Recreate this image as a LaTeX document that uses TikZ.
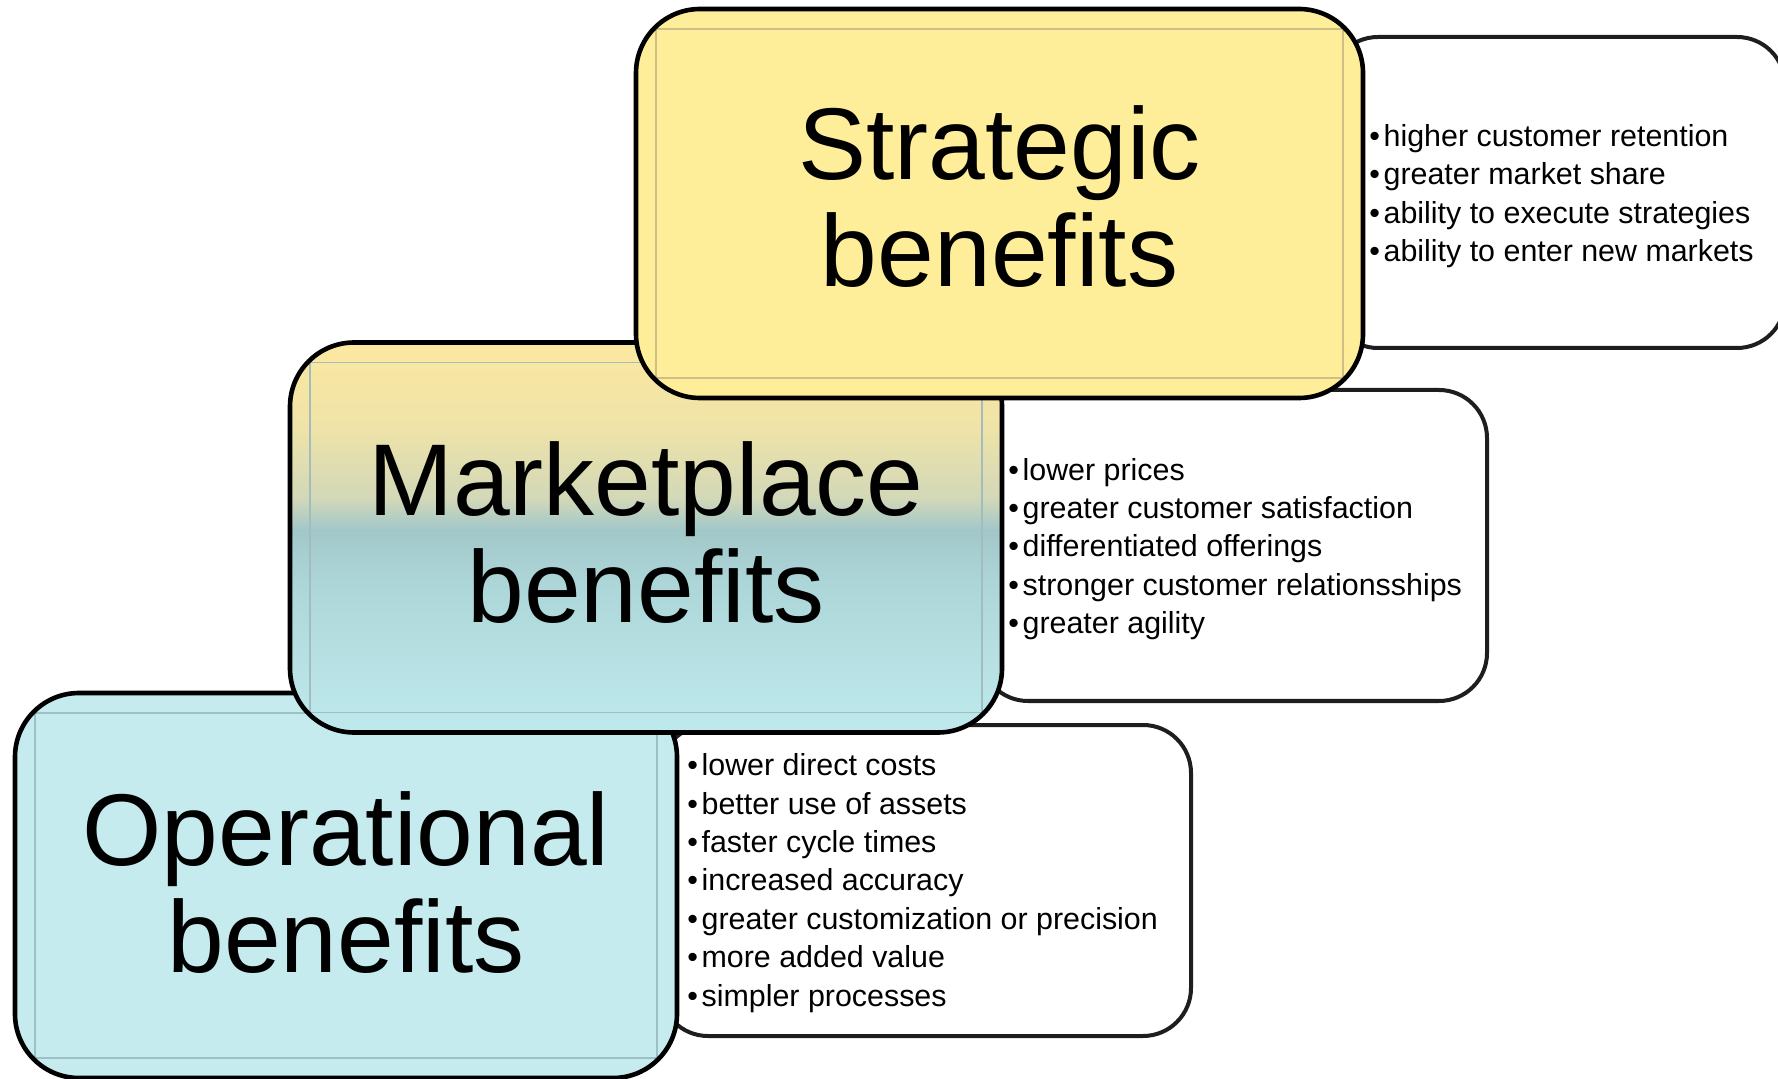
\documentclass[tikz,border=0pt]{standalone}
\usepackage{fontspec}
\setmainfont{Liberation Sans}

\definecolor{stryellow}{HTML}{FFEE99}
\definecolor{opscyan}{HTML}{C5EBEE}
\definecolor{strline}{HTML}{CDBF86}
\definecolor{opsline}{HTML}{9CC0C4}
\definecolor{mktline}{HTML}{A3BDBD}
\definecolor{mkttop}{HTML}{FCE8A0}
\definecolor{mktpale}{HTML}{EEE3A8}
\definecolor{mktkhaki}{HTML}{D2D8B8}
\definecolor{mktteal}{HTML}{A2C7C9}
\definecolor{mktlow}{HTML}{ADD6D8}
\definecolor{mktbot}{HTML}{BFEAED}
\definecolor{listline}{HTML}{1E1E1E}

\pgfdeclareverticalshading{mktshade}{100bp}{color(0bp)=(mktbot); color(25bp)=(mktbot); color(44bp)=(mktlow); color(51bp)=(mktteal); color(55bp)=(mktkhaki); color(64bp)=(mktpale); color(75bp)=(mkttop); color(100bp)=(mkttop)}

\newcommand{\itemdot}{•\hspace{1.8pt}}

\begin{document}
\begin{tikzpicture}[x=0.5pt, y=-0.5pt,
    benefit/.style={draw=black, line width=2.3pt, rounded corners=32pt, inner sep=0pt,
      align=center, font=\fontsize{51}{53.5}\selectfont,
      path picture={\draw[#1, line width=0.7pt, sharp corners]
        ([xshift=10pt,yshift=-10pt]path picture bounding box.north west) rectangle
        ([xshift=-10pt,yshift=10pt]path picture bounding box.south east);}},
    listbox/.style={draw=listline, line width=2pt, rounded corners=24pt, fill=white,
      inner sep=0pt, minimum height=155.5pt},
    items/.style={anchor=west, inner sep=0pt, align=left, font=\fontsize{15.2}{19.2}\selectfont}]
  \useasboundingbox (0,0) rectangle (1778,1079);

  % Operational
  \node[listbox, minimum width=265.5pt] (opsbox) at (925.5,880.5) {};
  \node[items] (opslist) at (687,883) {\itemdot lower direct costs\\\itemdot better use of assets\\\itemdot faster cycle times\\\itemdot increased accuracy\\\itemdot greater customization or precision\\\itemdot more added value\\\itemdot simpler processes};
  \node[benefit=opsline, fill=opscyan, minimum width=331pt, minimum height=192.5pt, text depth=3pt] (ops) at (346,885.5) {Operational\\benefits};

  % Marketplace
  \node[listbox, minimum width=253.5pt] (mktbox) at (1233.5,545.5) {};
  \node[items] (mktlist) at (1008,549) {\itemdot lower prices\\\itemdot greater customer satisfaction\\\itemdot differentiated offerings\\\itemdot stronger customer relationsships\\\itemdot greater agility};
  \node[benefit=mktline, shade, shading=mktshade, minimum width=356pt, minimum height=195pt, text depth=5pt] (mkt) at (646,537.5) {Marketplace\\benefits};

  % Strategic
  \node[listbox, minimum width=227.5pt] (strbox) at (1557.5,192.5) {};
  \node[items] (strlist) at (1369,196) {\itemdot higher customer retention\\\itemdot greater market share\\\itemdot ability to execute strategies\\\itemdot ability to enter new markets};
  \node[benefit=strline, fill=stryellow, minimum width=363.5pt, minimum height=194.5pt, text depth=7pt] (str) at (999.5,203.5) {Strategic\\benefits};
\end{tikzpicture}
\end{document}
